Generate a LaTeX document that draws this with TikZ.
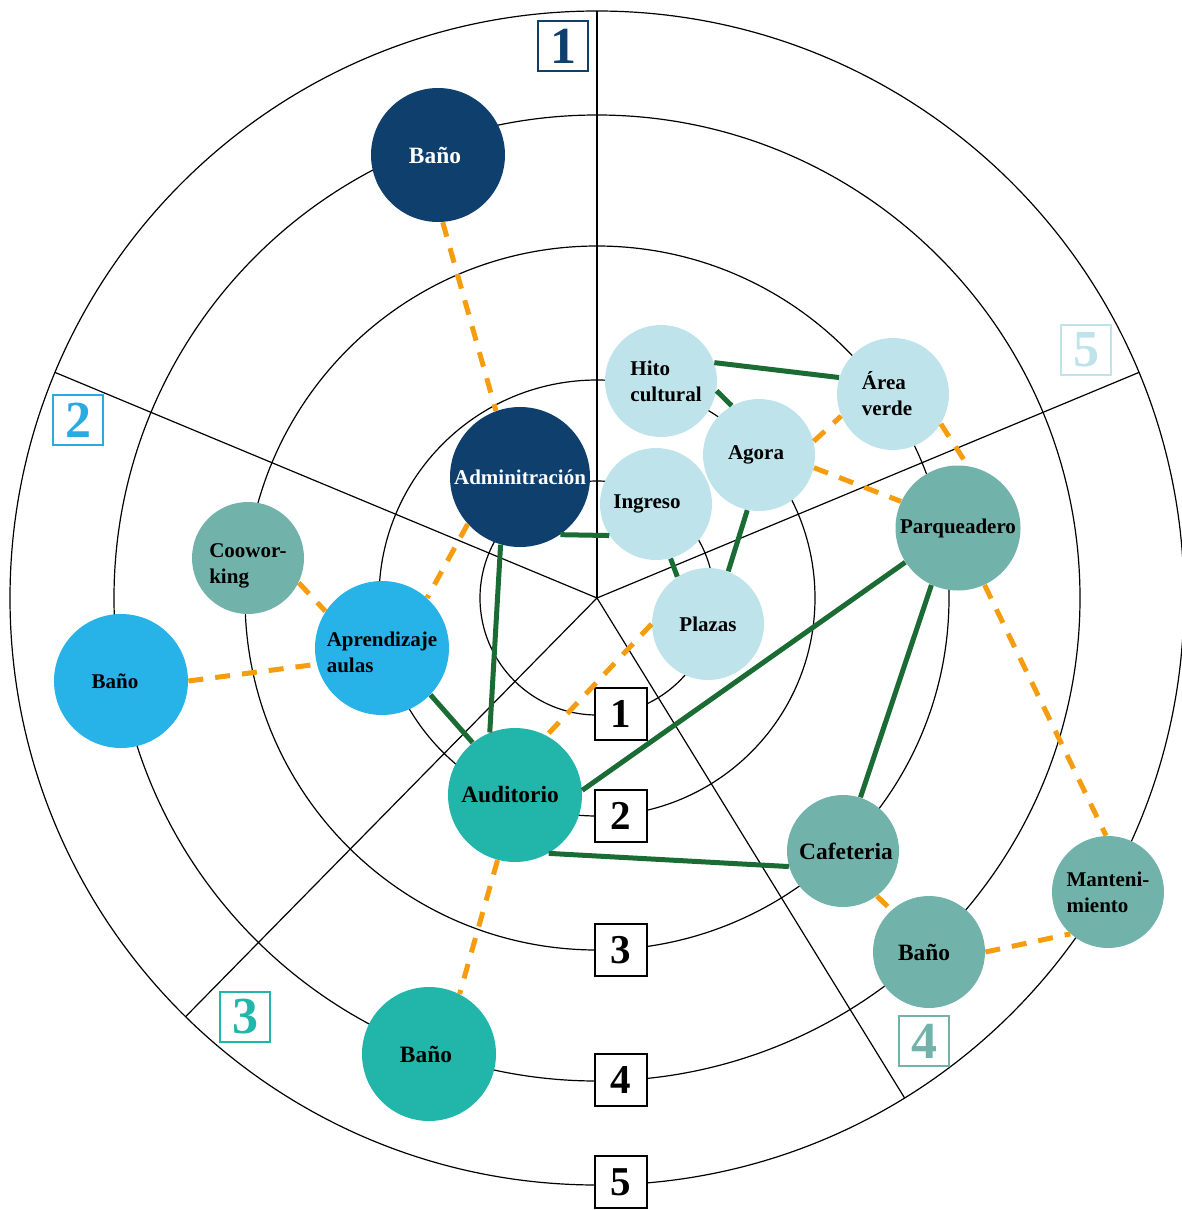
\documentclass[tikz,border=0pt]{standalone}
\usepackage{fontspec}
\setmainfont{Liberation Serif}
\definecolor{cNavy}{HTML}{0E3F6D}
\definecolor{cSky}{HTML}{27B3E7}
\definecolor{cTeal}{HTML}{22B5A9}
\definecolor{cSage}{HTML}{71B3AB}
\definecolor{cPale}{HTML}{BEE3EB}
\definecolor{cGreen}{HTML}{1B6B34}
\definecolor{cOrange}{HTML}{F59D0E}
\definecolor{cSkyB}{HTML}{29ABE2}
\tikzset{
  gridline/.style={draw=black, line width=0.6pt},
  bub/.style={circle, inner sep=0pt, align=left, font=\bfseries\fontsize{10.5}{13}\selectfont},
  bigfont/.style={font=\bfseries\fontsize{11.7}{13}\selectfont},
  bigb/.style={bub, minimum size=67pt},
  smallb/.style={bub, minimum size=56pt},
  greenlink/.style={draw=cGreen, line width=2.5pt},
  dashlink/.style={draw=cOrange, line width=2.5pt, dash pattern=on 7.5pt off 6pt},
  secbox/.style={draw, line width=0.8pt, minimum size=25pt, inner sep=0pt, font=\bfseries\fontsize{26}{26}\selectfont},
  numbox/.style={draw=black, fill=white, line width=1.1pt, minimum size=26pt, inner sep=0pt, font=\bfseries\fontsize{20.5}{20.5}\selectfont}
}
\begin{document}
\begin{tikzpicture}[x=0.5pt,y=-0.5pt]
\useasboundingbox (0,0) rectangle (1182,1210);
\coordinate (C) at (597,598);
% concentric rings
\foreach \r in {58.5,109,176,241.5,293.5}
  \draw[gridline] (C) circle[radius=\r pt];
% radial dividers
\foreach \a in {90,22.6,-58.4,-134.5,157.4}
  \draw[gridline] (C) -- ++(\a:293.5pt);
% ring number boxes
\node[numbox] (n1) at (621,714) {1};
\node[numbox] (n2) at (621,816) {2};
\node[numbox] (n3) at (621,950) {3};
\node[numbox] (n4) at (621,1080) {4};
\node[numbox] (n5) at (621,1182) {5};
% sector boxes
\node[secbox, draw=cNavy, text=cNavy] (s1) at (563,46) {1};
\node[secbox, draw=cSkyB, text=cSkyB] (s2) at (78,420) {2};
\node[secbox, draw=cTeal, text=cTeal] (s3) at (245,1017) {3};
\node[secbox, draw=cSage, text=cSage] (s4) at (924,1041) {4};
\node[secbox, draw=cPale, text=cPale] (s5) at (1086,350) {5};
% bubbles
\node[bigb, bigfont, fill=cNavy, text=white] (banoA) at (438,155) {Baño\hspace*{3pt}};
\node[bub, minimum size=70pt, fill=cNavy, text=white] (admin) at (520,477) {Adminitración};
\node[smallb, fill=cPale] (hito) at (661,381) {\hspace*{5pt}Hito\\\hspace*{5pt}cultural};
\node[smallb, fill=cPale] (area) at (893,394) {Área\\verde\hspace*{6pt}};
\node[smallb, fill=cPale] (agora) at (759,455) {Agora\hspace*{3pt}};
\node[smallb, fill=cPale] (ingreso) at (656,504) {Ingreso\hspace*{9pt}};
\node[smallb, fill=cPale] (plazas) at (708,624) {Plazas};
\node[bub, minimum size=62.5pt, fill=cSage] (parq) at (958,528) {Parqueadero};
\node[smallb, fill=cSage] (cowork) at (248,558) {\rule{0pt}{15pt}Coowor-\\king};
\node[bigb, fill=cSky] (aprend) at (382,648) {\rule{0pt}{12pt}Aprendizaje\\aulas};
\node[bigb, fill=cSky] (banoB) at (121,681) {Baño\hspace*{6pt}};
\node[bigb, bigfont, fill=cTeal] (audit) at (515,795) {Auditorio\hspace*{5pt}};
\node[smallb, bigfont, fill=cSage] (cafe) at (843,851) {\hspace*{3pt}Cafeteria};
\node[smallb, bigfont, fill=cSage] (banoD) at (929,952) {Baño\hspace*{5pt}};
\node[smallb, fill=cSage] (mant) at (1108,892) {Manteni-\\miento};
\node[bigb, bigfont, fill=cTeal] (banoC) at (429,1054) {Baño\hspace*{3pt}};
% green links
\draw[greenlink] (hito.19) -- (area.163);
\draw[greenlink] (hito.-10) -- (agora.119);
\draw[greenlink] (admin.-55) -- (ingreso.214);
\draw[greenlink] (agora.258) -- (plazas.69);
\draw[greenlink] (ingreso.-75) -- (plazas.123);
\draw[greenlink] (admin.254) -- (audit.112);
\draw[greenlink] (aprend.-44) -- (audit.129);
\draw[greenlink] (audit.4) -- (parq.213);
\draw[greenlink] (parq.245) -- (cafe.72);
\draw[greenlink] (audit.-60) -- (cafe.196);
% orange dashed links
\draw[dashlink] (banoA.-86) -- (admin.110);
\draw[dashlink] (admin.222) -- (aprend.48);
\draw[dashlink] (cowork.-26) -- (aprend.147);
\draw[dashlink] (banoB.0) -- (aprend.194);
\draw[dashlink] (plazas.180) -- (audit.62);
\draw[dashlink] (audit.255) -- (banoC.63);
\draw[dashlink] (agora.14) -- (area.203);
\draw[dashlink] (agora.-13) -- (parq.155);
\draw[dashlink] (area.-32) -- (parq.81);
\draw[dashlink] (parq.-65) -- (mant.92);
\draw[dashlink] (cafe.-53) -- (banoD.132);
\draw[dashlink] (banoD.0) -- (mant.228);
\end{tikzpicture}
\end{document}
